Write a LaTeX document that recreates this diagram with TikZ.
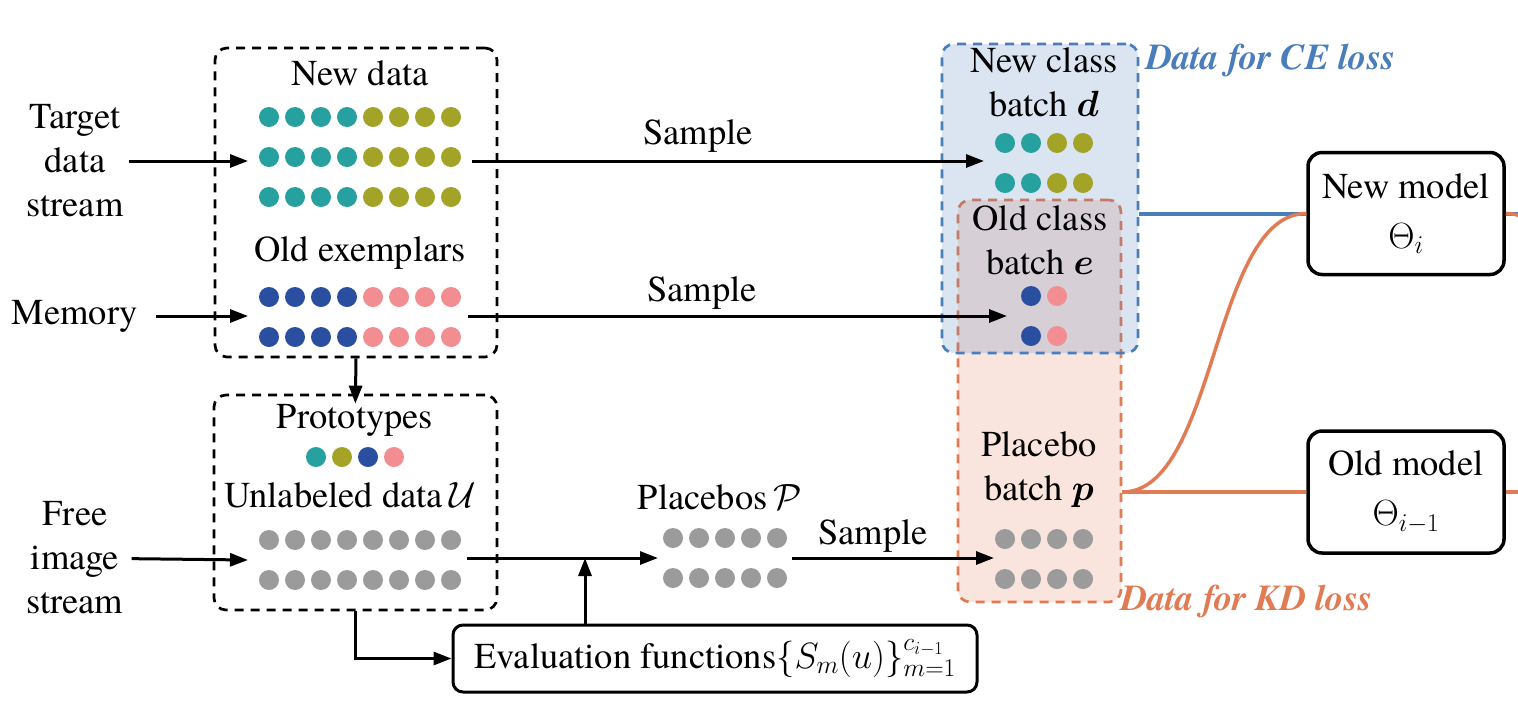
\RequirePackage{fix-cm}
\documentclass[tikz,border=0pt]{standalone}
\usepackage{amsmath,bm}
\usepackage{fontspec}
\setmainfont{TeX Gyre Termes}
\newfontfamily\tnr{TeX Gyre Termes}
\usetikzlibrary{arrows.meta}
\definecolor{cteal}{HTML}{27A19F}
\definecolor{colive}{HTML}{A3A328}
\definecolor{cblue}{HTML}{2A4EA0}
\definecolor{cpink}{HTML}{F28E91}
\definecolor{cgray}{HTML}{9B9B9B}
\definecolor{ceblue}{HTML}{4A7EBB}
\definecolor{kdorange}{HTML}{E07B54}
\newcommand\mydots[4]{\foreach \k in {1,...,#3} \fill[#4] ({#2+26*(\k-1)},#1) circle (10pt);}
\tikzset{
  lbl/.style={font=\tnr\fontsize{36.5}{44}\selectfont, align=center, inner sep=0pt},
  arr/.style={draw, line width=3pt, -{Triangle[length=18pt,width=13pt]}},
  dbox/.style={draw, line width=2.7pt, dash pattern=on 9pt off 7pt, rounded corners=12pt, inner sep=0pt},
  model/.style={draw, line width=3.5pt, rounded corners=14pt, minimum width=196pt, minimum height=122pt, align=center, inner sep=0pt, font=\tnr\fontsize{36.5}{50}\selectfont},
}
\begin{document}
\begin{tikzpicture}[x=1pt,y=-1pt]
\useasboundingbox (0,0) rectangle (1518,710);
\clip (0,0) rectangle (1518,710);

% data boxes
\node[dbox, draw=kdorange, fill=kdorange, fill opacity=0.2, draw opacity=1, minimum width=163pt, minimum height=402pt] (kd) at (1039.5,401) {};
\node[dbox, draw=ceblue, fill=ceblue, fill opacity=0.2, draw opacity=1, minimum width=196pt, minimum height=309pt] (ce) at (1040,198.5) {};

% left dashed boxes
\node[dbox, minimum width=282pt, minimum height=309pt] (box1) at (356,202.5) {};
\node[dbox, minimum width=283pt, minimum height=215pt] (box2) at (355.5,502.5) {};

% left labels
\node[lbl] (target) at (75,161) {Target\\data\\stream};
\node[lbl] (memory) at (75,316) {Memory};
\node[lbl] (free) at (75,558) {Free\\image\\stream};

% box 1 contents
\node[lbl] (newdata) at (360,73) {New data};
\mydots{117}{269}{4}{cteal}\mydots{117}{373}{4}{colive}
\mydots{157}{269}{4}{cteal}\mydots{157}{373}{4}{colive}
\mydots{197}{269}{4}{cteal}\mydots{197}{373}{4}{colive}
\node[lbl] (oldex) at (360,253) {Old exemplars};
\mydots{297}{269}{4}{cblue}\mydots{297}{373}{4}{cpink}
\mydots{337}{269}{4}{cblue}\mydots{337}{373}{4}{cpink}

% box 2 contents
\node[lbl] (proto) at (355,420) {Prototypes};
\fill[cteal] (316,457) circle (10pt);
\fill[colive] (342,457) circle (10pt);
\fill[cblue] (368,457) circle (10pt);
\fill[cpink] (394,457) circle (10pt);
\node[lbl] (unl) at (350,495) {Unlabeled data$\,\mathcal{U}$};
\mydots{540}{269}{8}{cgray}
\mydots{580}{269}{8}{cgray}

% placebos
\node[lbl] (placebos) at (720,497) {Placebos$\,\mathcal{P}$};
\mydots{538}{673}{5}{cgray}
\mydots{578}{673}{5}{cgray}

% evaluation box
\node[draw, line width=3pt, rounded corners=10pt, minimum width=524pt, minimum height=67pt, inner sep=0pt, font=\tnr\fontsize{36.5}{44}\selectfont] (eval) at (715,658.5) {Evaluation functions$\{S_m(u)\}_{m=1}^{c_{i-1}}$};

% right boxes contents
\node[lbl] (newcls) at (1044,82) {New class\\batch $\bm{d}$};
\mydots{143}{1005}{2}{cteal}\mydots{143}{1057}{2}{colive}
\mydots{183}{1005}{2}{cteal}\mydots{183}{1057}{2}{colive}
\node[lbl] (oldcls) at (1040,240) {Old class\\batch $\bm{e}$};
\fill[cblue] (1031,296) circle (10pt); \fill[cpink] (1057,296) circle (10pt);
\fill[cblue] (1031,336) circle (10pt); \fill[cpink] (1057,336) circle (10pt);
\node[lbl] (plcb) at (1039,470) {Placebo\\batch $\bm{p}$};
\mydots{539}{1005}{4}{cgray}
\mydots{579}{1005}{4}{cgray}

\node[lbl, anchor=west, text=ceblue, font=\tnr\fontsize{36.5}{44}\selectfont\bfseries\itshape] (celbl) at (1146,60) {Data for CE loss};
\node[lbl, anchor=west, text=kdorange, font=\tnr\fontsize{36.5}{44}\selectfont\bfseries\itshape] (kdlbl) at (1121,601) {Data for KD loss};

% models
\node[model] (newm) at (1406,213.5) {New model\\$\Theta_i$};
\node[model] (oldm) at (1406,492) {Old model\\$\Theta_{i-1}$};

% sample labels
\node[lbl] (smp1) at (698,136) {Sample};
\node[lbl] (smp2) at (702,293) {Sample};
\node[lbl] (smp3) at (873,536) {Sample};

% coordinates
\coordinate (in1) at (248,161);
\coordinate (in2) at (248,316);
\coordinate (in3) at (248,560);
\coordinate (s1o) at (472,161);
\coordinate (s1i) at (984,161);
\coordinate (s2o) at (468,316);
\coordinate (s2i) at (1007,316);
\coordinate (uo) at (467,558);
\coordinate (pi) at (658,558);
\coordinate (j) at (585,558);
\coordinate (po) at (792,558);
\coordinate (bi) at (994,558);
\coordinate (rout) at (1691,492);
\coordinate (bout) at (1600,213.5);

% arrows
\draw[arr, shorten <=5pt] (target) -- (in1);
\draw[arr, shorten <=18pt] (memory) -- (in2);
\draw[arr, shorten <=8pt] (free) -- (in3);
\draw[arr] (s1o) -- (s1i);
\draw[arr] (s2o) -- (s2i);
\draw[arr, shorten >=-10pt] (box1.south) -- (box2.north);
\draw[arr] (box2.south) -- (box2.south |- eval.west) -- (eval.west);
\draw[arr] (uo) -- (pi);
\draw[arr] (eval.north -| j) -- (j);
\draw[arr] (po) -- (bi);

% model connections
\draw[ceblue, line width=4pt] (newm.west -| ce.east) -- (newm.west);
\draw[kdorange, line width=3.5pt] (oldm.west -| kd.east) -- (oldm.west);
\draw[kdorange, line width=3.5pt] (oldm.west -| kd.east) .. controls +(94,0) and +(-94,0) .. (newm.west);
\draw[ceblue, line width=4pt] (newm.east) -- (bout);
\draw[kdorange, line width=3.5pt] (newm.east) .. controls +(94,0) and +(-94,0) .. (rout);
\draw[kdorange, line width=3.5pt] (oldm.east) -- (oldm.east -| rout);
\end{tikzpicture}
\end{document}
